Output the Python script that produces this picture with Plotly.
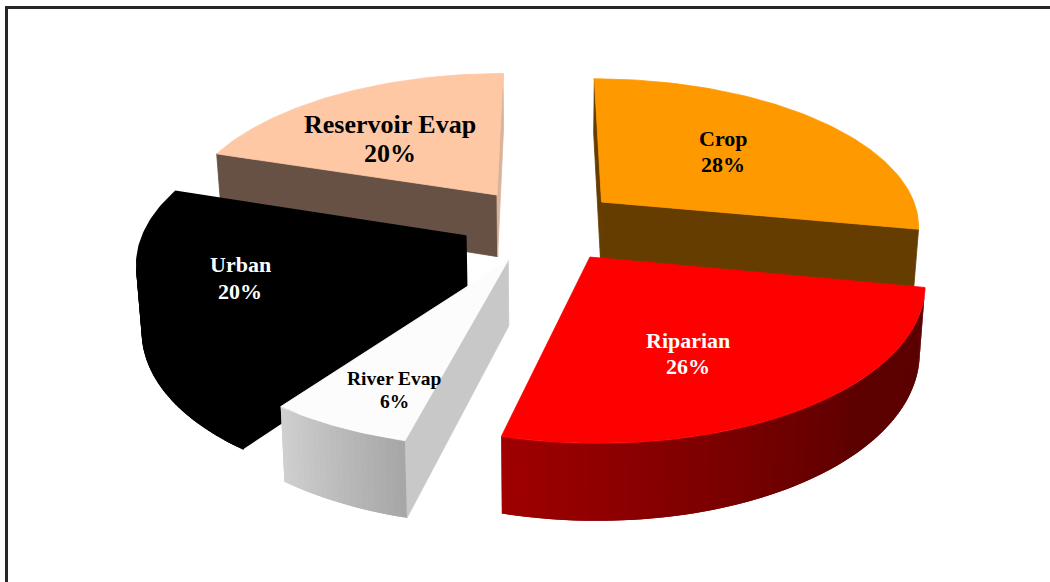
import math
import plotly.graph_objects as go

# Water-use shares, clockwise from twelve o'clock
categories = ["Crop", "Riparian", "River Evap", "Urban", "Reservoir Evap"]
shares = [28, 26, 6, 20, 20]

# Colour of each slice: top face, radial walls, rim at slice start and end
top_colors = ["#FF9900", "#FF0000", "#FCFCFC", "#000000", "#FFC8A5"]
wall_colors = ["#663D00", "#8A0000", "#C8C8C8", "#000000", "#675144"]
end_wall_colors = ["#663D00", "#8A0000", "#C8C8C8", "#000000", "#D9B39B"]
rim_start_colors = [(102, 61, 0), (92, 0, 0), (166, 166, 166), (0, 0, 0), (103, 81, 68)]
rim_end_colors = [(102, 61, 0), (160, 0, 0), (208, 208, 208), (0, 0, 0), (103, 81, 68)]
# Fraction of the arc that stays at the start colour before the shading begins
rim_hold = [0, 0.35, 0, 0, 0]
# Outline drawn round each face; the black slice needs a heavier one to close its joins
edge_widths = [0.8, 0.8, 0.8, 1.6, 0.8]

# Horizontal displacement of each exploded slice in pie-radius units
explode_x = [0.181, 0.136, -0.111, -0.245, -0.155]
explode_y = [0.206, -0.163, -0.182, -0.027, 0.256]

# Labels
label_colors = ["#000000", "#FFFFFF", "#000000", "#FFFFFF", "#000000"]
label_sizes = [22, 22, 19.5, 22, 26]
label_x = [723, 688, 394, 240, 390]
label_y = [[138, 164], [340, 366], [378, 401], [264, 291], [124, 153]]

# Camera used to project the pie onto the page
CENTER_X, CENTER_Y = 545, 232
SCALE_X, SCALE_Y = 322, 150
PERSPECTIVE = 0.15
THICKNESS = 64
BASE_SHRINK = 0.986
DRAW_ORDER = [4, 0, 3, 1, 2]


def project(wx, wy, lower=False):
    denom = 1 + PERSPECTIVE * wy
    px = SCALE_X * wx / denom
    py = -SCALE_Y * wy / denom
    if lower:
        px *= BASE_SHRINK
        py += THICKNESS / denom
    return CENTER_X + px, CENTER_Y + py


def rim(index, theta, lower=False):
    return project(
        explode_x[index] + math.sin(theta),
        explode_y[index] + math.cos(theta),
        lower,
    )


def apex(index, lower=False):
    return project(explode_x[index], explode_y[index], lower)


def facing(points):
    total = 0
    for (x0, y0), (x1, y1) in zip(points, points[1:] + points[:1]):
        total += x0 * y1 - x1 * y0
    return total < 0


def face(fig, points, color, edge):
    xs = [p[0] for p in points] + [points[0][0]]
    ys = [p[1] for p in points] + [points[0][1]]
    fig.add_trace(go.Scatter(
        x=xs, y=ys, mode="lines", fill="toself", fillcolor=color,
        line=dict(color=color, width=edge), hoverinfo="skip", showlegend=False,
    ))


def mix(a, b, t):
    return "rgb({},{},{})".format(*[round(a[i] + (b[i] - a[i]) * t) for i in range(3)])


total_share = sum(shares)
spans = []
running = 0
for value in shares:
    start = running / total_share * 2 * math.pi
    running += value
    spans.append((start, running / total_share * 2 * math.pi))

fig = go.Figure()

for i in DRAW_ORDER:
    start, end = spans[i]
    steps = max(20, int((end - start) / math.radians(1.0)))
    angles = [start + (end - start) * s / steps for s in range(steps + 1)]

    wall_a = [apex(i), rim(i, start), rim(i, start, True), apex(i, True)]
    if facing(wall_a):
        face(fig, wall_a, wall_colors[i], edge_widths[i])
    wall_b = [rim(i, end), apex(i), apex(i, True), rim(i, end, True)]
    if facing(wall_b):
        face(fig, wall_b, end_wall_colors[i], edge_widths[i])

    # Rim is cut into narrow strips so its shading can vary along the arc;
    # each strip reaches over the next one's start to hide the joins
    uniform_rim = rim_start_colors[i] == rim_end_colors[i]
    for s in range(steps):
        upper = angles[min(s + 2, steps)]
        strip = [rim(i, angles[s]), rim(i, angles[s + 1]),
                 rim(i, angles[s + 1], True), rim(i, angles[s], True)]
        if facing(strip):
            wide = [rim(i, angles[s]), rim(i, upper), rim(i, upper, True), rim(i, angles[s], True)]
            t = (s + 0.5) / steps
            t = max(0.0, (t - rim_hold[i]) / (1 - rim_hold[i]))
            face(fig, wide, mix(rim_start_colors[i], rim_end_colors[i], t),
                 edge_widths[i] if uniform_rim else 0)

    face(fig, [apex(i)] + [rim(i, a) for a in angles], top_colors[i], edge_widths[i])

for i, name in enumerate(categories):
    for text, y in zip([name, f"{shares[i]}%"], label_y[i]):
        fig.add_annotation(
            x=label_x[i], y=y, text=f"<b>{text}</b>", showarrow=False,
            xanchor="center", yanchor="middle",
            font=dict(family="Liberation Serif", size=label_sizes[i], color=label_colors[i]),
        )

# Chart-area frame, which runs off the right and bottom of the page
fig.add_shape(
    type="rect", x0=6.5, y0=7.5, x1=1100, y1=640, xref="x", yref="y",
    line=dict(color="#262626", width=3), fillcolor="rgba(0,0,0,0)",
)

fig.update_layout(
    width=1050, height=582, margin=dict(l=0, r=0, t=0, b=0),
    paper_bgcolor="#FFFFFF", plot_bgcolor="#FFFFFF", showlegend=False,
    xaxis=dict(range=[0, 1050], visible=False, fixedrange=True),
    yaxis=dict(range=[582, 0], visible=False, fixedrange=True),
)

fig.write_html("out.html", config=dict(displayModeBar=False))
